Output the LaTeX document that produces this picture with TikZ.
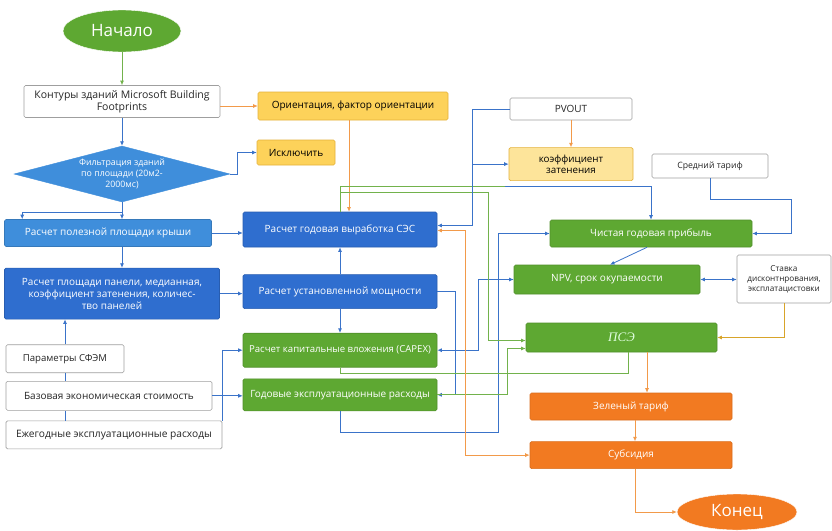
\documentclass[tikz,border=0pt]{standalone}
\usepackage{fontspec}
\setmainfont{Open Sans}
\newfontfamily\psefont{Liberation Serif}
\usepackage{xcolor}
\usepackage{tikz}
\usetikzlibrary{shapes.geometric,arrows.meta,positioning,calc}

\definecolor{grfill}{HTML}{5EA832}
\definecolor{bldark}{HTML}{2F6ECF}
\definecolor{bllight}{HTML}{3F8EDB}
\definecolor{yefill}{HTML}{FDD25A}
\definecolor{yeline}{HTML}{E5B23A}
\definecolor{yepale}{HTML}{FDE49A}
\definecolor{orfill}{HTML}{F27A21}
\definecolor{blarrow}{HTML}{3A73C9}
\definecolor{grarrow}{HTML}{72B24C}
\definecolor{orarrow}{HTML}{F29A4A}
\definecolor{yearrow}{HTML}{D8A42A}

\begin{document}
\begin{tikzpicture}[
  x=1pt, y=-1pt,
  >={Latex[length=4.5pt,width=4pt]},
  block/.style={rectangle, draw, rounded corners=1.5pt, inner sep=2pt,
    align=center, line width=0.6pt, font=\fontsize{10}{12}\selectfont},
  whitebox/.style={block, fill=white, draw=gray!75, text=black!85},
  bluebox/.style={block, fill=bldark, draw=bldark!85!black, text=white},
  lbluebox/.style={block, fill=bllight, draw=bllight!85!black, text=white},
  greenbox/.style={block, fill=grfill, draw=grfill!85!black, text=white},
  yellowbox/.style={block, fill=yefill, draw=yeline},
  paleyellowbox/.style={block, fill=yepale, draw=yeline},
  orangebox/.style={block, fill=orfill, draw=orfill!90!black, text=white},
  terminal/.style={ellipse, draw=white, text=white, inner sep=0pt,
    font=\fontsize{17}{19}\selectfont},
  decision/.style={diamond, aspect=4, fill=bllight, draw=bllight, inner sep=0pt,
    text=white, align=center, font=\fontsize{8.8}{11}\selectfont},
  arrow/.style={->, line width=0.8pt},
  barrow/.style={arrow, draw=blarrow},
  garrow/.style={arrow, draw=grarrow},
  oarrow/.style={arrow, draw=orarrow},
  yarrow/.style={arrow, draw=yearrow},
  bline/.style={line width=0.8pt, draw=blarrow},
  gline/.style={line width=0.8pt, draw=grarrow},
]
  \fill[white] (0,0) rectangle (832,530);
  \useasboundingbox (0,0) rectangle (832,530);

  % left column
  \node[terminal, fill=grfill, minimum width=118pt, minimum height=42pt] (start) at (122,31) {Начало};
  \node[whitebox, minimum width=196pt, minimum height=32pt, below=33pt of start, font=\fontsize{10.5}{12.5}\selectfont] (contour) {Контуры зданий Microsoft Building\\Footprints};
  \node[decision, minimum width=216pt, minimum height=56pt, below=28pt of contour] (filter) {Фильтрация зданий\\по площади (20м2-\\2000мс)};
  \node[lbluebox, minimum width=207pt, minimum height=27pt, below=17pt of filter, xshift=-14pt] (roof) {Расчет полезной площади крыши};
  \node[bluebox, minimum width=215pt, minimum height=51pt, below=21pt of roof, xshift=4pt] (panel) {Расчет площади панели, медианная,\\коэффициент затенения, количес-\\тво панелей};
  \node[whitebox, minimum width=118pt, minimum height=28pt, below right=25pt and 1.5pt of panel.south west, font=\fontsize{9.6}{11.5}\selectfont] (sfem) {Параметры СФЭМ};
  \node[whitebox, minimum width=206pt, minimum height=29pt, below right=8pt and 0pt of sfem.south west] (basecost) {Базовая экономическая стоимость};
  \node[whitebox, minimum width=216pt, minimum height=28pt, below right=10pt and 0pt of basecost.south west, font=\fontsize{10.2}{12}\selectfont] (opcost) {Ежегодные эксплуатационные расходы};

  % middle column
  \node[yellowbox, minimum width=190pt, minimum height=28pt] (orient) at (353,106) {Ориентация, фактор ориентации};
  \node[yellowbox, minimum width=78pt, minimum height=25pt] (excl) at (296,152.5) {Исключить};
  \node[bluebox, minimum width=194pt, minimum height=35pt] (ses) at (340,229.5) {Расчет годовая выработка СЭС};
  \node[bluebox, minimum width=194pt, minimum height=34pt, below=27pt of ses] (power) {Расчет установленной мощности};
  \node[greenbox, minimum width=194pt, minimum height=34pt, below=24pt of power, font=\fontsize{9.6}{11.5}\selectfont] (capex) {Расчет капитальные вложения (CAPEX)};
  \node[greenbox, minimum width=194pt, minimum height=32pt, below=11pt of capex] (opex) {Годовые эксплуатационные расходы};

  % right column
  \node[whitebox, minimum width=122pt, minimum height=22pt] (pvout) at (571,109) {PVOUT};
  \node[paleyellowbox, minimum width=124pt, minimum height=33pt, below=27pt of pvout, font=\fontsize{9.8}{11.5}\selectfont] (shade) {коэффициент\\затенения};
  \node[whitebox, minimum width=116pt, minimum height=24pt, font=\fontsize{8.7}{10.5}\selectfont] (tariff) at (710,166) {Средний тариф};
  \node[greenbox, minimum width=202pt, minimum height=27pt] (profit) at (651,233.5) {Чистая годовая прибыль};
  \node[greenbox, minimum width=186pt, minimum height=29pt] (npv) at (607,279.5) {NPV, срок окупаемости};
  \node[whitebox, minimum width=94pt, minimum height=48pt, inner sep=1pt, font=\fontsize{8.2}{10}\selectfont] (rate) at (784,279) {Ставка\\дисконтнрования,\\эксплатацистовки};
  \node[greenbox, minimum width=191pt, minimum height=29pt, text=green!12, font=\psefont\itshape\fontsize{13}{15}\selectfont] (pse) at (621.5,337.5) {ПСЭ};
  \node[orangebox, minimum width=202pt, minimum height=27pt] (gtariff) at (631,406.5) {Зеленый тариф};
  \node[orangebox, minimum width=202pt, minimum height=27pt, below=21pt of gtariff] (subsidy) {Субсидия};
  \node[terminal, fill=orfill, minimum width=120pt, minimum height=36pt] (finish) at (737,512) {Конец};

  % left flow
  \draw[garrow] (start) -- (contour);
  \draw[oarrow] (contour.east |- orient.west) -- (orient.west);
  \draw[barrow] (contour) -- (filter);
  \draw[barrow] (filter.east) -- ++(7,0) |- (excl.west);
  \draw[barrow] (filter.south) -- (filter.south |- roof.north);
  \draw[barrow] (filter.south) ++(0,10) -| ([xshift=18pt]roof.north west);
  \draw[barrow] (roof.east) -- (roof.east -| ses.west);
  \draw[barrow] (roof.south -| filter.south) -- (panel.north -| filter.south);
  \draw[barrow] (panel.east) -- (panel.east -| power.west);
  \draw[bline] (opcost.north -| sfem) -- (basecost.south -| sfem);
  \draw[bline] (basecost.north -| sfem) -- (sfem.south);
  \draw[barrow] (sfem.north) -- (sfem.north |- panel.south);
  \draw[barrow] (basecost.east) -- (basecost.east -| opex.west);
  \draw[barrow] (opcost.north east) |- (capex.west);

  % middle flow
  \draw[oarrow] ([xshift=-4pt]orient.south) -- ([xshift=-4pt]orient.south |- ses.north);
  \draw[barrow] (power) -- (ses);
  \draw[barrow] (power) -- (capex);
  \draw[barrow] (power.east) -- ++(18,0) |- (opex.east);
  \draw[barrow] (opex.south) -- ++(0,21) -- ++(158,0) |- (profit.west);
  \draw[barrow, <->] (capex.east) -- ++(41,0) |- (npv.west);
  \draw[gline] (capex.south) -- ++(0,6) -| ([xshift=6.5pt]pse.south);
  \draw[garrow] (opex.east) -- ++(70,0) |- ([yshift=-11pt]pse.west);
  \draw[garrow] (ses.north) -- ++(0,-19) -- ++(148,0) |- ([yshift=-3pt]pse.west);
  \draw[gline] (ses.north) -- ++(0,-25) -- ++(165,0) coordinate (turn);
  \draw[barrow] (turn) -| (profit.north);

  % right flow
  \draw[barrow] (pvout.west) -- ++(-37,0) |- ([yshift=4pt]ses.east);
  \draw[barrow] (pvout.west) ++(-37,0) |- (shade.west);
  \draw[oarrow] (pvout) -- (shade);
  \draw[oarrow, <->] ([yshift=-1pt]ses.east) -- ++(28,0) |- (subsidy.west);
  \draw[barrow] (tariff.south) -- ++(0,21) -- ++(81,0) |- (profit.east);
  \draw[barrow] ([xshift=-4pt]profit.south) -- ([xshift=3pt]npv.north);
  \draw[barrow, <->] (npv.east) -- (npv.east -| rate.west);
  \draw[yarrow] (rate.south) |- (pse.east);
  \draw[oarrow] ([xshift=25.5pt]pse.south) -- ([xshift=25.5pt]pse.south |- gtariff.north);
  \draw[oarrow] ([xshift=4pt]gtariff.south) -- ([xshift=4pt]subsidy.north);
  \draw[oarrow] ([xshift=4pt]subsidy.south) |- (finish.west);
\end{tikzpicture}
\end{document}
